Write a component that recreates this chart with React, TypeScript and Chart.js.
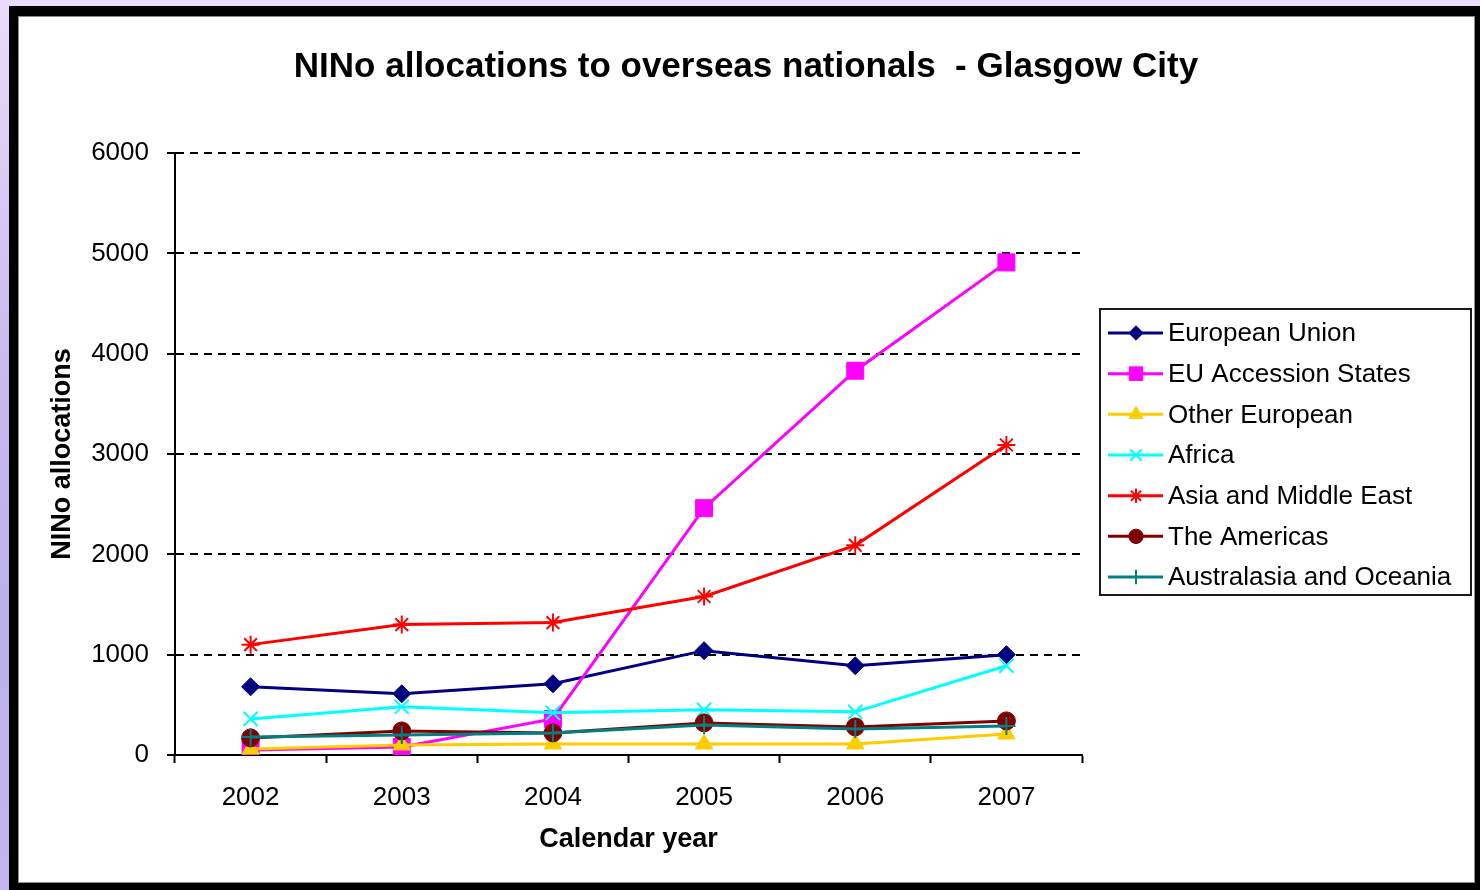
import React, { useEffect, useRef } from 'react';
import { Chart, registerables } from 'chart.js';
import { drawPoint } from 'chart.js/helpers';

Chart.register(...registerables);

const years = ['2002', '2003', '2004', '2005', '2006', '2007'];
const europeanUnion = [680, 610, 710, 1040, 890, 1000];
const euAccessionStates = [50, 80, 360, 2460, 3830, 4910];
const otherEuropean = [60, 100, 110, 110, 110, 210];
const africa = [360, 480, 420, 450, 430, 890];
const asiaMiddleEast = [1100, 1300, 1320, 1580, 2090, 3090];
const theAmericas = [170, 240, 220, 320, 280, 340];
const australasiaOceania = [180, 200, 220, 300, 260, 290];

const seriesNames = [
  'European Union',
  'EU Accession States',
  'Other European',
  'Africa',
  'Asia and Middle East',
  'The Americas',
  'Australasia and Oceania',
];
const seriesValues = [
  europeanUnion,
  euAccessionStates,
  otherEuropean,
  africa,
  asiaMiddleEast,
  theAmericas,
  australasiaOceania,
];
const seriesColors = ['#000080', '#FF00FF', '#FFCC00', '#00FFFF', '#FF0000', '#800000', '#008080'];
const seriesMarkers = ['rectRot', 'rect', 'triangle', 'crossRot', 'star', 'circle', 'cross'];
const markerSizes = [9, 12, 10, 10, 9, 9, 9];

const titleText = 'NINo allocations to overseas nationals  - Glasgow City';
const yTitle = 'NINo allocations';
const xTitle = 'Calendar year';

const FONT = '"Liberation Sans", Arial, Helvetica, sans-serif';

const boxLegend = {
  id: 'boxLegend',
  afterDraw(chart: any) {
    const ctx = chart.ctx;
    const area = chart.chartArea;
    const left = area.right + 18;
    const top = 309;
    const rowH = 40.67;
    ctx.save();
    ctx.strokeStyle = '#1a1a1a';
    ctx.lineWidth = 2;
    ctx.setLineDash([]);
    ctx.strokeRect(left, top, 371, 286);
    chart.data.datasets.forEach((ds: any, i: number) => {
      const y = top + 24 + i * rowH;
      ctx.strokeStyle = ds.borderColor;
      ctx.lineWidth = 3;
      ctx.beginPath();
      ctx.moveTo(left + 8, y);
      ctx.lineTo(left + 63, y);
      ctx.stroke();
      ctx.fillStyle = ds.pointBackgroundColor;
      ctx.strokeStyle = ds.pointBorderColor;
      ctx.lineWidth = ds.pointBorderWidth;
      drawPoint(
        ctx,
        { pointStyle: ds.pointStyle, rotation: 0, radius: ds.pointRadius * 0.8, borderWidth: ds.pointBorderWidth } as any,
        left + 36,
        y
      );
      ctx.fillStyle = '#000';
      ctx.font = `26px ${FONT}`;
      ctx.textBaseline = 'middle';
      ctx.textAlign = 'left';
      ctx.fillText(ds.label, left + 68, y + 1);
    });
    ctx.restore();
  },
};

export default function App() {
  const canvasRef = useRef<HTMLCanvasElement | null>(null);

  useEffect(() => {
    if (!canvasRef.current) return;
    Chart.defaults.font.family = FONT;
    Chart.defaults.color = '#000';
    const datasets = seriesNames.map((name, i) => ({
      label: name,
      data: seriesValues[i],
      borderColor: seriesColors[i],
      backgroundColor: seriesColors[i],
      pointBackgroundColor: seriesColors[i],
      pointBorderColor: seriesColors[i],
      pointBorderWidth: ['crossRot', 'star', 'cross'].includes(seriesMarkers[i]) ? 2 : 1,
      pointStyle: seriesMarkers[i],
      pointRadius: markerSizes[i],
      borderWidth: 3,
      tension: 0,
      fill: false,
      order: seriesNames.length - i,
      yAxisID: 'y',
    }));
    const chart = new Chart(canvasRef.current, {
      type: 'line',
      data: { labels: years, datasets },
      plugins: [boxLegend],
      options: {
        animation: false,
        responsive: false,
        devicePixelRatio: 1,
        layout: { padding: { left: 12, right: 0, top: 0, bottom: 0 } },
        plugins: {
          legend: { display: false },
          tooltip: { enabled: false },
          title: {
            display: true,
            text: titleText,
            color: '#000',
            font: { size: 35, weight: 'bold', family: FONT },
            padding: { top: 46, bottom: 65 },
          },
        },
        scales: {
          x: {
            type: 'category',
            offset: true,
            grid: {
              display: true,
              drawOnChartArea: false,
              drawTicks: true,
              tickLength: 8,
              tickColor: '#000',
              tickWidth: 2,
              offset: true,
            },
            border: { display: true, color: '#000', width: 2 },
            ticks: { color: '#000', font: { size: 26 }, padding: 19, maxRotation: 0 },
            title: {
              display: true,
              text: xTitle,
              color: '#000',
              font: { size: 27, weight: 'bold' },
              padding: { top: 0, bottom: 34 },
            },
            afterFit: (s: any) => {
              s.height = 135;
            },
          },
          y: {
            type: 'linear',
            position: 'left',
            min: 0,
            max: 6000,
            ticks: {
              stepSize: 1000,
              color: '#000',
              font: { size: 26 },
              padding: 18,
              callback: (v: any) => String(v),
            },
            grid: {
              color: '#000',
              lineWidth: 2,
              drawTicks: true,
              tickLength: 8,
              tickColor: '#000',
              tickWidth: 2,
              tickBorderDash: [1, 0],
            },
            border: { display: true, color: '#000', width: 2, dash: [8, 6] },
            title: {
              display: true,
              text: yTitle,
              color: '#000',
              font: { size: 27, weight: 'bold' },
              padding: { top: 34, bottom: 0 },
            },
            afterFit: (s: any) => {
              s.width = 163;
            },
          },
          legendSpace: {
            type: 'linear',
            position: 'right',
            display: true,
            grid: { display: false, drawOnChartArea: false, drawTicks: false },
            border: { display: false },
            ticks: { display: false },
            afterFit: (s: any) => {
              s.width = 398;
            },
          },
        },
      } as any,
    });
    return () => chart.destroy();
  }, []);

  return (
    <div
      style={{
        position: 'fixed',
        left: 0,
        top: 0,
        width: 1480,
        height: 890,
        overflow: 'hidden',
        background: 'linear-gradient(to bottom, #eadcfa 0%, #c9baf0 40%, #bcb0ec 70%, #c4b6ee 100%)',
      }}
    >
      <div style={{ position: 'absolute', left: 9, top: 6, width: 1471, height: 884, background: '#000' }} />
      <div
        style={{
          position: 'absolute',
          left: 18,
          top: 16,
          width: 1455,
          height: 865,
          background: '#fff',
          border: '1px solid #8a8a8a',
        }}
      />
      <canvas
        ref={canvasRef}
        width={1480}
        height={890}
        style={{ position: 'absolute', left: 0, top: 0, width: 1480, height: 890 }}
      />
    </div>
  );
}
